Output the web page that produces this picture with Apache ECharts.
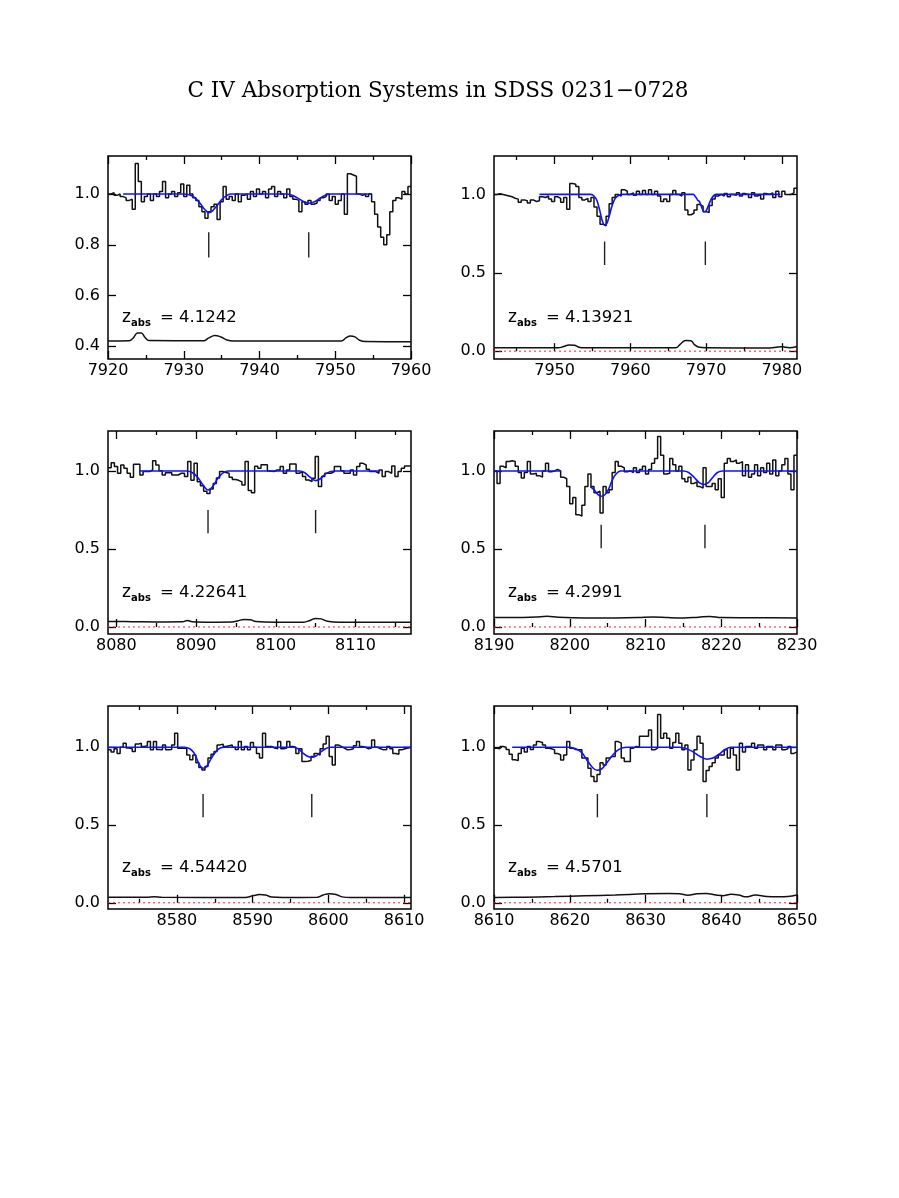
<!DOCTYPE html>
<html>
<head>
<meta charset="utf-8">
<script src="https://cdn.jsdelivr.net/npm/echarts@6/dist/echarts.min.js"></script>
<style>
html,body{margin:0;padding:0;background:#fff;}
#chart{width:899px;height:1198px;}
</style>
</head>
<body>
<div id="chart"></div>
<script>
// ---------------- data ----------------
const TITLE = 'C IV Absorption Systems in SDSS 0231\u22120728';

// Panel 1
const p1Z = '4.1242';
const p1XRange = [7920, 7960];
const p1YRange = [0.35, 1.15];
const p1XTicks = [7920, 7930, 7940, 7950, 7960];
const p1XMinor = [7925, 7935, 7945, 7955];
const p1YTicks = [0.4, 0.6, 0.8, 1.0];
const p1Start = 7920, p1Step = 0.4;
const p1Flux = [1.00,1.005,0.995,1.0,0.99,0.985,0.975,0.98,0.94,1.12,
 1.05,0.97,0.99,1.0,0.975,1.0,0.99,1.01,1.05,0.985,
 1.0,1.01,0.99,1.005,1.04,0.99,1.035,1.0,0.985,0.975,
 0.95,0.93,0.905,0.93,0.95,0.96,0.9,0.97,1.03,0.98,
 0.99,0.975,1.0,0.97,0.995,1.0,0.98,1.01,0.99,1.02,
 1.0,1.01,0.985,1.02,1.03,0.99,1.01,1.0,0.985,1.02,
 0.99,0.98,0.975,0.93,0.97,0.96,0.975,0.96,0.965,0.975,
 0.985,0.99,1.0,0.975,0.99,0.96,0.975,1.0,0.92,1.08,
 1.075,1.07,1.0,0.995,1.0,0.99,1.0,0.97,0.92,0.87,
 0.83,0.8,0.84,0.93,0.975,0.985,0.98,1.01,1.0,1.03];
const p1Fit = [[[7922,1],[7930,1],[7930.8,0.996],[7931.5,0.985],[7932.2,0.962],[7932.8,0.938],[7933.3,0.927],[7933.8,0.934],[7934.4,0.955],[7935,0.978],[7935.6,0.993],[7936.2,1],[7943.5,1],[7944.3,0.995],[7945,0.985],[7945.8,0.971],[7946.6,0.964],[7947.4,0.972],[7948.1,0.986],[7948.8,0.996],[7949.4,1],[7954.8,1]]];
const p1Err = [[7920,0.421],[7922.8,0.422],[7923.3,0.432],[7923.9,0.452],[7924.4,0.452],[7924.9,0.435],[7925.4,0.423],[7932.6,0.422],[7933.3,0.433],[7934.1,0.443],[7934.9,0.437],[7935.7,0.425],[7936.6,0.421],[7950.8,0.421],[7951.4,0.433],[7952,0.441],[7952.6,0.437],[7953.2,0.424],[7954,0.419],[7960,0.418]];
const p1Marks = [7933.3, 7946.5];
const p1MarkY = [0.75, 0.85];

// Panel 2
const p2Z = '4.13921';
const p2XRange = [7942, 7982];
const p2YRange = [-0.05, 1.245];
const p2XTicks = [7950, 7960, 7970, 7980];
const p2XMinor = [7945, 7955, 7965, 7975];
const p2YTicks = [0.0, 0.5, 1.0];
const p2Start = 7942, p2Step = 0.4;
const p2Flux = [1.0,1.005,1.0,0.995,0.99,0.985,0.975,0.97,0.95,0.965,
 0.96,0.945,0.965,0.955,0.96,0.985,0.98,0.99,0.97,0.955,
 0.985,0.975,0.95,0.98,0.905,1.07,1.065,1.05,0.98,0.965,
 0.975,0.955,0.98,0.92,0.86,0.81,0.8,0.86,0.94,0.98,
 1.0,0.99,1.03,1.02,1.0,1.01,0.995,1.02,1.0,1.025,
 1.0,1.03,1.0,1.02,0.99,0.955,0.97,0.955,1.0,1.025,
 1.0,0.99,1.01,0.9,0.87,0.88,0.9,0.935,0.925,0.89,
 0.885,0.93,0.97,0.99,1.0,0.99,1.005,0.985,1.0,0.995,
 1.01,0.99,1.005,1.0,0.98,1.01,0.99,1.0,0.97,1.005,
 1.0,1.01,0.98,1.02,0.985,1.02,1.0,1.0,1.01,1.04];
const p2Fit = [[[7948,1],[7954.8,1],[7955.2,0.99],[7955.6,0.96],[7956.0,0.89],[7956.3,0.83],[7956.6,0.805],[7956.9,0.815],[7957.2,0.86],[7957.6,0.93],[7958.0,0.975],[7958.5,0.995],[7959,1],[7968.3,1],[7968.6,0.985],[7968.9,0.963],[7969.1,0.955],[7969.4,0.92],[7969.7,0.89],[7970.0,0.895],[7970.4,0.94],[7970.8,0.98],[7971.3,1],[7979.8,1]]];
const p2Err = [[7942,0.022],[7950.5,0.021],[7951.2,0.03],[7951.9,0.04],[7952.6,0.038],[7953.2,0.025],[7954,0.021],[7966,0.021],[7966.6,0.045],[7967.3,0.068],[7968,0.066],[7968.5,0.04],[7969.1,0.025],[7970,0.022],[7978,0.02],[7980,0.028],[7981,0.022],[7982,0.03]];
const p2Marks = [7956.6, 7969.9];
const p2MarkY = [0.55, 0.70];

// Panel 3
const p3Z = '4.22641';
const p3XRange = [8078.95, 8116.97];
const p3YRange = [-0.045, 1.256];
const p3XTicks = [8080, 8090, 8100, 8110];
const p3XMinor = [8085, 8095, 8105, 8115];
const p3YTicks = [0.0, 0.5, 1.0];
const p3Start = 8078.95, p3Step = 0.4;
const p3Flux = [1.02,1.053,1.028,0.985,1.038,1.017,0.985,0.96,1.043,1.043,
 0.974,0.996,0.996,1.006,1.066,1.038,1.002,0.974,0.989,0.989,
 0.974,0.974,0.985,0.985,0.964,1.06,0.94,1.05,0.93,0.905,
 0.87,0.855,0.885,0.92,0.955,0.996,0.99,0.985,0.96,0.945,
 0.94,0.93,0.91,1.06,0.875,0.86,1.03,1.017,1.04,1.04,
 1.0,0.996,1.006,1.006,1.028,0.985,1.006,1.045,1.045,0.985,
 0.996,0.964,0.942,0.932,0.953,1.092,0.9,0.964,0.985,0.985,
 0.996,1.028,1.028,1.002,0.985,0.985,1.006,0.974,1.028,1.049,
 1.038,1.011,0.996,0.996,0.985,1.006,0.964,0.996,0.985,1.032,
 0.964,0.996,1.017,1.032,1.032];
const p3Fit = [[[8082.9,1],[8088.8,1],[8089.5,0.99],[8090.2,0.96],[8090.8,0.915],[8091.5,0.878],[8092.1,0.9],[8092.7,0.95],[8093.3,0.985],[8094,1],[8103,1],[8103.6,0.99],[8104.3,0.96],[8105,0.938],[8105.6,0.95],[8106.2,0.98],[8106.9,0.997],[8107.5,1],[8113.1,1]]];
const p3Err = [[8078.95,0.035],[8082,0.034],[8085,0.032],[8088.3,0.033],[8088.9,0.042],[8089.5,0.034],[8092,0.031],[8094.5,0.032],[8095.3,0.04],[8096,0.048],[8096.8,0.046],[8097.5,0.035],[8100,0.031],[8103.5,0.031],[8104.3,0.042],[8105,0.055],[8105.7,0.052],[8106.5,0.036],[8108,0.03],[8112,0.03],[8116.97,0.03]];
const p3Marks = [8091.5, 8105.0];
const p3MarkY = [0.60, 0.75];

// Panel 4
const p4Z = '4.2991';
const p4XRange = [8190, 8230];
const p4YRange = [-0.045, 1.256];
const p4XTicks = [8190, 8200, 8210, 8220, 8230];
const p4XMinor = [8195, 8205, 8215, 8225];
const p4YTicks = [0.0, 0.5, 1.0];
const p4Start = 8190, p4Step = 0.4;
const p4Flux = [1.0,0.92,1.03,1.02,1.06,1.065,1.06,1.03,0.99,0.955,
 0.99,1.06,0.98,0.985,0.97,0.96,1.0,1.05,0.995,1.0,
 1.01,1.0,0.96,0.95,0.9,0.79,0.83,0.72,0.71,0.78,
 0.9,0.98,0.9,0.86,0.87,0.73,0.9,0.86,0.88,0.99,
 1.06,1.03,1.02,0.995,1.0,0.99,1.02,0.99,1.01,1.03,
 0.98,1.01,1.05,1.08,1.22,1.1,0.98,0.985,1.08,1.04,
 1.0,1.03,0.95,0.93,0.96,0.92,0.93,0.9,0.89,1.02,
 0.9,0.9,0.92,0.88,0.95,0.83,1.05,1.08,1.06,1.07,
 1.05,1.06,0.97,1.04,0.96,0.98,1.04,0.97,1.02,0.99,
 1.05,0.98,1.07,0.97,1.0,1.04,1.08,0.98,0.88,1.1];
const p4Fit = [[[8190,1],[8198.8,1]],
 [[8202.7,0.9],[8203.2,0.88],[8203.7,0.85],[8204.15,0.838],[8204.6,0.846],[8205.1,0.88],[8205.6,0.94],[8206.1,0.98],[8206.7,1.0],[8215,1],[8215.7,0.99],[8216.4,0.96],[8217.1,0.925],[8217.7,0.913],[8218.3,0.925],[8218.9,0.96],[8219.5,0.99],[8220.2,1],[8230,1]]];
const p4Err = [[8190,0.06],[8193,0.06],[8195.5,0.064],[8197,0.068],[8198.5,0.062],[8202,0.058],[8206,0.058],[8209,0.06],[8211,0.064],[8213,0.06],[8215,0.058],[8217,0.063],[8218.5,0.067],[8220,0.06],[8225,0.059],[8230,0.058]];
const p4Marks = [8204.15, 8217.85];
const p4MarkY = [0.505, 0.655];

// Panel 5
const p5Z = '4.54420';
const p5XRange = [8570.9, 8610.9];
const p5YRange = [-0.04, 1.265];
const p5XTicks = [8580, 8590, 8600, 8610];
const p5XMinor = [8575, 8585, 8595, 8605];
const p5YTicks = [0.0, 0.5, 1.0];
const p5Start = 8570.9, p5Step = 0.4;
const p5Flux = [0.983,0.97,0.99,0.96,1.0,1.026,0.995,0.99,0.973,1.02,
 1.026,1.005,1.01,1.036,0.983,1.036,0.985,0.983,1.015,0.983,
 0.985,1.015,1.09,0.994,0.994,0.994,0.95,0.92,0.95,0.9,
 0.87,0.854,0.876,0.93,0.955,0.972,1.015,1.02,1.005,1.01,
 1.015,1.0,0.985,1.036,0.983,1.005,0.983,1.03,1.0,0.96,
 0.93,1.09,1.005,1.005,0.995,0.99,1.036,0.99,0.995,1.036,
 1.005,1.0,0.96,0.99,0.908,0.91,0.915,0.94,0.96,0.95,
 0.99,1.02,1.07,0.94,0.886,1.015,1.005,0.995,0.983,0.985,
 0.99,1.01,1.036,1.005,1.0,0.99,0.995,1.047,1.0,0.99,
 0.983,0.985,1.005,0.99,0.96,0.955,0.983,0.99,0.995,1.0];
const p5Fit = [[[8570.9,1],[8581,1],[8581.7,0.99],[8582.3,0.96],[8582.9,0.895],[8583.4,0.865],[8583.9,0.875],[8584.5,0.925],[8585.1,0.97],[8585.7,0.995],[8586.3,1],[8595.3,1],[8596,0.99],[8596.7,0.96],[8597.3,0.94],[8597.8,0.936],[8598.4,0.945],[8599,0.97],[8599.6,0.99],[8600.2,1],[8610.9,1]]];
const p5Err = [[8570.9,0.036],[8576,0.035],[8577,0.038],[8578,0.035],[8589,0.034],[8590.1,0.046],[8590.9,0.053],[8591.7,0.05],[8592.5,0.037],[8594,0.034],[8598.5,0.035],[8599.3,0.05],[8600.1,0.058],[8601,0.053],[8601.8,0.038],[8603,0.034],[8610.9,0.034]];
const p5Marks = [8583.45, 8597.8];
const p5MarkY = [0.55, 0.70];

// Panel 6
const p6Z = '4.5701';
const p6XRange = [8610, 8650];
const p6YRange = [-0.04, 1.265];
const p6XTicks = [8610, 8620, 8630, 8640, 8650];
const p6XMinor = [8615, 8625, 8635, 8645];
const p6YTicks = [0.0, 0.5, 1.0];
const p6Start = 8610, p6Step = 0.4;
const p6Flux = [0.994,0.99,1.005,1.0,0.985,0.955,0.92,0.914,0.96,0.994,
 0.97,1.005,0.985,1.015,1.036,1.03,1.015,0.994,0.99,0.983,
 0.96,0.95,0.918,0.95,1.036,0.994,0.985,0.983,0.983,0.93,
 0.93,0.865,0.811,0.78,0.825,0.9,0.885,0.93,0.94,0.94,
 1.036,1.026,0.93,0.908,0.908,0.994,1.005,1.0,1.07,1.07,
 1.07,1.11,0.983,0.994,1.21,1.058,1.09,1.058,0.994,1.03,
 1.09,1.026,0.983,1.015,0.854,0.918,0.983,1.07,1.026,0.78,
 0.85,0.876,0.9,0.93,0.95,0.95,0.983,0.93,0.994,0.95,
 0.854,1.026,0.97,1.005,1.005,1.026,0.994,1.015,1.015,0.983,
 1.005,1.005,0.983,1.015,1.015,0.983,0.99,1.005,0.96,0.97];
const p6Fit = [[[8612.4,1],[8620,1],[8620.8,0.99],[8621.6,0.965],[8622.3,0.915],[8623,0.87],[8623.6,0.852],[8624.2,0.86],[8624.9,0.9],[8625.6,0.945],[8626.3,0.98],[8627,0.997],[8627.6,1],[8634.5,1],[8635.4,0.99],[8636.3,0.97],[8637.2,0.94],[8638.1,0.923],[8638.9,0.93],[8639.7,0.955],[8640.5,0.985],[8641.3,1],[8650,1]]];
const p6Err = [[8610,0.034],[8614,0.036],[8618,0.04],[8622,0.045],[8626,0.05],[8630,0.058],[8633,0.06],[8634.5,0.058],[8635.6,0.048],[8636.8,0.058],[8638,0.06],[8639.3,0.05],[8640.2,0.045],[8641.3,0.055],[8642.3,0.05],[8643.3,0.038],[8644.5,0.05],[8646,0.04],[8647.5,0.038],[8648.8,0.04],[8650,0.05]];
const p6Marks = [8623.65, 8638.1];
const p6MarkY = [0.55, 0.70];

// ---------------- assembly ----------------
const panels = [
 {z:p1Z, xr:p1XRange, yr:p1YRange, xt:p1XTicks, xm:p1XMinor, yt:p1YTicks, start:p1Start, step:p1Step, flux:p1Flux, fit:p1Fit, err:p1Err, marks:p1Marks, my:p1MarkY},
 {z:p2Z, xr:p2XRange, yr:p2YRange, xt:p2XTicks, xm:p2XMinor, yt:p2YTicks, start:p2Start, step:p2Step, flux:p2Flux, fit:p2Fit, err:p2Err, marks:p2Marks, my:p2MarkY},
 {z:p3Z, xr:p3XRange, yr:p3YRange, xt:p3XTicks, xm:p3XMinor, yt:p3YTicks, start:p3Start, step:p3Step, flux:p3Flux, fit:p3Fit, err:p3Err, marks:p3Marks, my:p3MarkY},
 {z:p4Z, xr:p4XRange, yr:p4YRange, xt:p4XTicks, xm:p4XMinor, yt:p4YTicks, start:p4Start, step:p4Step, flux:p4Flux, fit:p4Fit, err:p4Err, marks:p4Marks, my:p4MarkY},
 {z:p5Z, xr:p5XRange, yr:p5YRange, xt:p5XTicks, xm:p5XMinor, yt:p5YTicks, start:p5Start, step:p5Step, flux:p5Flux, fit:p5Fit, err:p5Err, marks:p5Marks, my:p5MarkY},
 {z:p6Z, xr:p6XRange, yr:p6YRange, xt:p6XTicks, xm:p6XMinor, yt:p6YTicks, start:p6Start, step:p6Step, flux:p6Flux, fit:p6Fit, err:p6Err, marks:p6Marks, my:p6MarkY}
];

// layout
const COL_LEFT = [108, 494];
const ROW_TOP = [156, 431, 706];
const PW = 303, PH = 203;
const FONT = '"DejaVu Sans", "Liberation Sans", sans-serif';

const grids = [], xAxes = [], yAxes = [], series = [], graphics = [];

function histData(start, step, flux) {
  const d = flux.map((f, i) => [start + i * step, f]);
  d.push([start + flux.length * step, flux[flux.length - 1]]);
  return d;
}

function xAx(g, p, pos, ticks, len, labels) {
  return {
    type: 'value', gridIndex: g, position: pos, min: p.xr[0], max: p.xr[1],
    axisLine: {show: false}, splitLine: {show: false},
    axisTick: {show: true, inside: true, length: len, lineStyle: {color: '#000', width: 1.3}, customValues: ticks},
    axisLabel: {show: labels, customValues: ticks, margin: 4, color: '#000', fontFamily: FONT, fontSize: 16,
      showMinLabel: true, showMaxLabel: true, formatter: v => String(Math.round(v))}
  };
}
function yAx(g, p, pos, labels) {
  return {
    type: 'value', gridIndex: g, position: pos, min: p.yr[0], max: p.yr[1],
    axisLine: {show: false}, splitLine: {show: false},
    axisTick: {show: true, inside: true, length: 8, lineStyle: {color: '#000', width: 1.3}, customValues: p.yt},
    axisLabel: {show: labels, customValues: p.yt, margin: 8, color: '#000', fontFamily: FONT, fontSize: 16,
      showMinLabel: true, showMaxLabel: true, formatter: v => v.toFixed(1)}
  };
}

panels.forEach((p, g) => {
  const L = COL_LEFT[g % 2], T = ROW_TOP[Math.floor(g / 2)];
  grids.push({left: L, top: T, width: PW, height: PH, show: true, borderColor: '#000', borderWidth: 1.5, backgroundColor: 'transparent', containLabel: false});
  const xi = xAxes.length;
  xAxes.push(xAx(g, p, 'bottom', p.xt, 8, true));
  xAxes.push(xAx(g, p, 'bottom', p.xm, 4, false));
  xAxes.push(xAx(g, p, 'top', p.xt, 8, false));
  xAxes.push(xAx(g, p, 'top', p.xm, 4, false));
  const yi = yAxes.length;
  yAxes.push(yAx(g, p, 'left', true));
  yAxes.push(yAx(g, p, 'right', false));

  if (p.yr[0] < 0) {
    series.push({type: 'line', xAxisIndex: xi, yAxisIndex: yi, data: [[p.xr[0], 0], [p.xr[1], 0]],
      showSymbol: false, silent: true, lineStyle: {color: '#ff2020', width: 1, type: [2, 3]}, z: 1});
  }
  series.push({type: 'line', xAxisIndex: xi, yAxisIndex: yi, data: p.err, smooth: 0.4,
    showSymbol: false, silent: true, lineStyle: {color: '#111', width: 1.5}, z: 2});
  series.push({type: 'line', xAxisIndex: xi, yAxisIndex: yi, data: histData(p.start, p.step, p.flux), step: 'end',
    showSymbol: false, silent: true, lineStyle: {color: '#111', width: 1.5}, z: 3});
  p.fit.forEach(seg => {
    series.push({type: 'line', xAxisIndex: xi, yAxisIndex: yi, data: seg, smooth: 0.3,
      showSymbol: false, silent: true, lineStyle: {color: '#1010ff', width: 1.6}, z: 4});
  });
  p.marks.forEach(m => {
    series.push({type: 'line', xAxisIndex: xi, yAxisIndex: yi, data: [[m, p.my[0]], [m, p.my[1]]],
      showSymbol: false, silent: true, lineStyle: {color: '#222', width: 1.4}, z: 4});
  });

  graphics.push({type: 'text', x: L + 14, y: T + 162, style: {text: 'z', font: '17px ' + FONT, fill: '#000', verticalAlign: 'middle', align: 'left'}});
  graphics.push({type: 'text', x: L + 23, y: T + 167.5, style: {text: 'abs', font: 'bold 10px ' + FONT, fill: '#000', verticalAlign: 'middle', align: 'left'}});
  graphics.push({type: 'text', x: L + 52, y: T + 162, style: {text: '= ' + p.z, font: '16.5px ' + FONT, fill: '#000', verticalAlign: 'middle', align: 'left'}});
});

graphics.push({type: 'text', x: 438, y: 91, style: {text: TITLE, font: '21.5px "DejaVu Serif", "Liberation Serif", serif', fill: '#000', verticalAlign: 'middle', align: 'center'}});

const chart = echarts.init(document.getElementById('chart'), null, {renderer: 'canvas'});
chart.setOption({
  backgroundColor: '#fff',
  animation: false,
  grid: grids,
  xAxis: xAxes,
  yAxis: yAxes,
  series: series,
  graphic: graphics
});
</script>
</body>
</html>
